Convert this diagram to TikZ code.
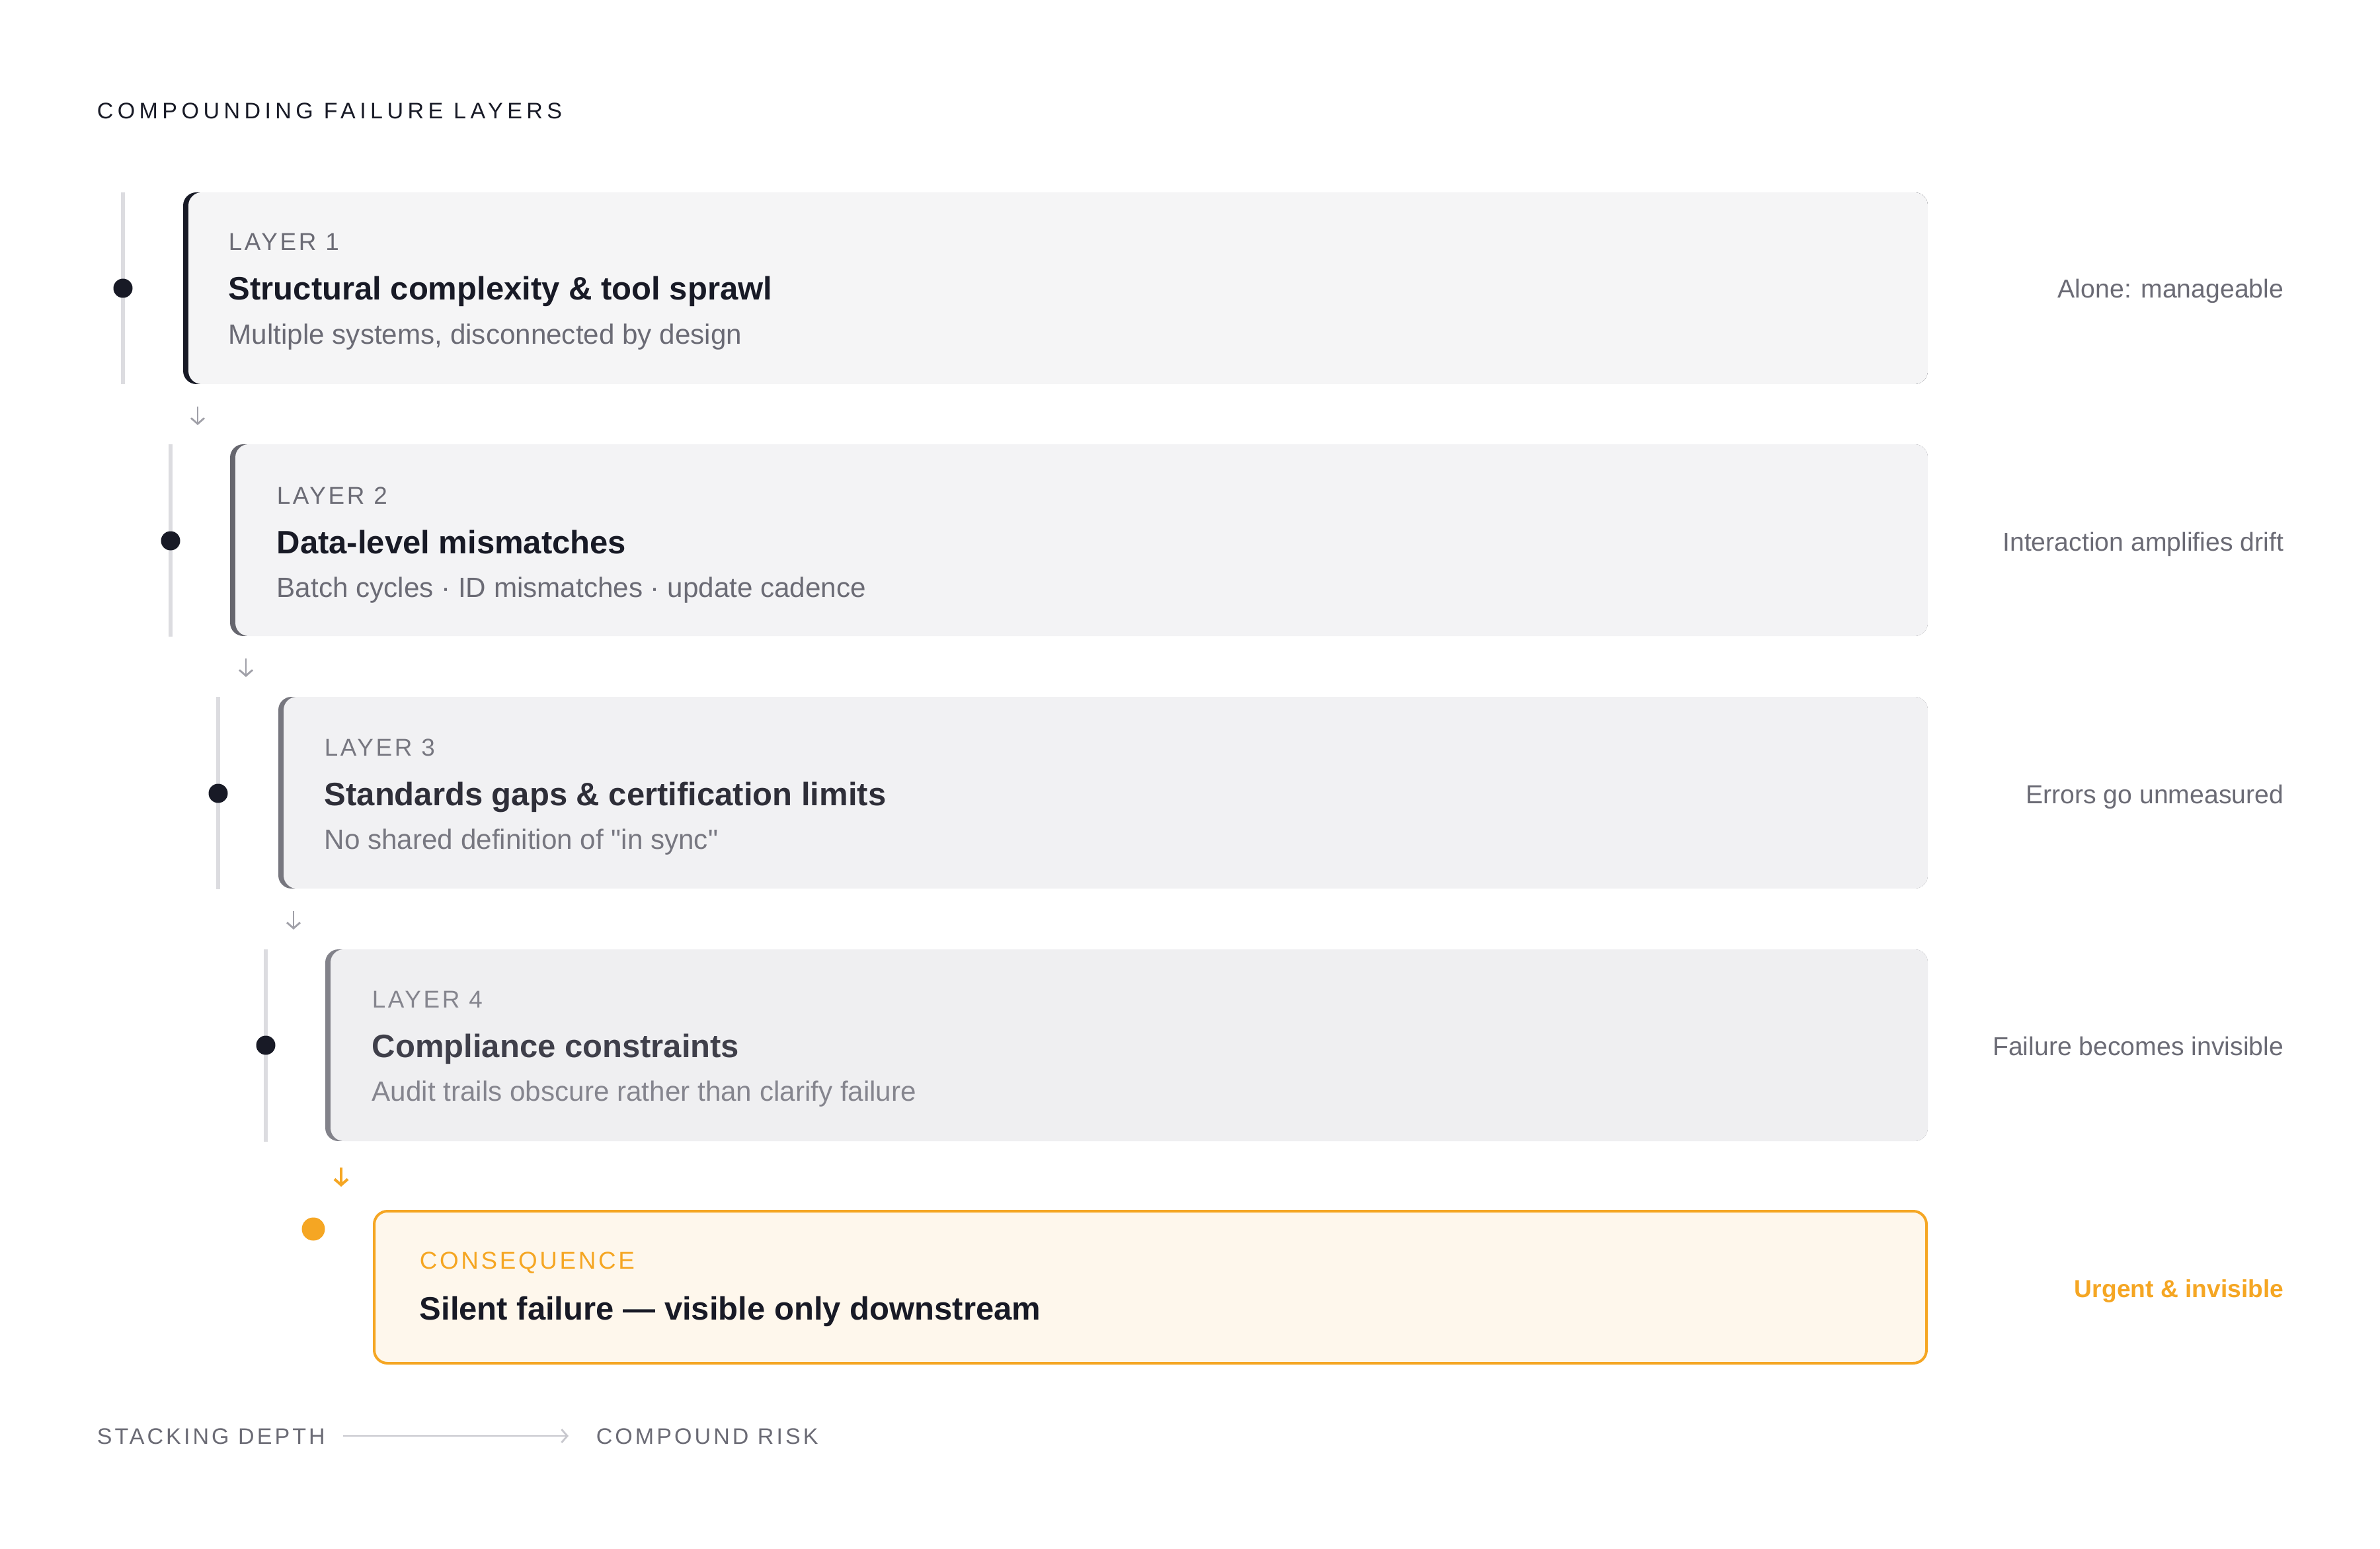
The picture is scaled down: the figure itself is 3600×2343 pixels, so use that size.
\documentclass[tikz,border=0pt]{standalone}
\usepackage{fontspec}
\setmainfont{Liberation Sans}
\usetikzlibrary{arrows.meta}
\definecolor{ink}{HTML}{181A26}
\definecolor{inkc}{HTML}{2E2E38}
\definecolor{inkd}{HTML}{3F3F4A}
\definecolor{mute}{HTML}{6B6B75}
\definecolor{mutec}{HTML}{777780}
\definecolor{muted}{HTML}{85858E}
\definecolor{tline}{HTML}{DCDCE0}
\definecolor{fa}{HTML}{F5F5F6}
\definecolor{fb}{HTML}{F3F3F5}
\definecolor{fc}{HTML}{F1F1F3}
\definecolor{fd}{HTML}{EFEFF1}
\definecolor{ba}{HTML}{181A26}
\definecolor{bb}{HTML}{66666E}
\definecolor{bc}{HTML}{77777F}
\definecolor{bd}{HTML}{82828A}
\definecolor{orng}{HTML}{F5A623}
\definecolor{cfill}{HTML}{FEF7EC}
\definecolor{agrey}{HTML}{A0A0A8}
\definecolor{bline}{HTML}{C8C8CE}
\newcommand\sq{\XeTeXglyph\XeTeXcharglyph"22\relax}
\newcommand\LBox[5]{%
  \begin{scope}
    \clip[rounded corners=5pt] (#1,#2) rectangle (2916,#2+290);
    \fill[#4] (#1,#2) rectangle (2916,#2+290);
    \fill[#3, rounded corners=5pt] (#1+8,#2) rectangle (2960,#2+290);
  \end{scope}
  \coordinate (#5) at (#1,#2);
}
\tikzset{
  capsA/.style={inner sep=0, anchor=base west, font=\fontsize{9.2}{11}\selectfont\addfontfeature{LetterSpace=10}},
  ttlA/.style={inner sep=0, anchor=base west, font=\fontsize{12.25}{14}\selectfont\bfseries},
  subA/.style={inner sep=0, anchor=base west, font=\fontsize{10.55}{12}\selectfont},
  sideA/.style={inner sep=0, anchor=base east, font=\fontsize{9.8}{12}\selectfont, text=mute},
  axisA/.style={inner sep=0, anchor=base west, text=mute, font=\fontsize{8.5}{10}\selectfont\addfontfeature{LetterSpace=12}},
  tl/.style={draw=tline, line width=1.5pt},
  dotA/.style={circle, fill=ink, inner sep=0, minimum size=7.25pt},
  garrow/.style={draw=agrey, line width=0.7pt, -{Straight Barb[length=2.2pt, width=5pt]}},
  oarrow/.style={draw=orng, line width=1pt, -{Straight Barb[length=2.2pt, width=5pt]}},
}
\begin{document}
\begin{tikzpicture}[x=0.25pt, y=-0.25pt]
\useasboundingbox (0,0) rectangle (3600,2343);
\fill[white] (0,0) rectangle (3600,2343);

\node[inner sep=0, anchor=base west, text=ink, font=\fontsize{8.5}{10}\selectfont\addfontfeature{LetterSpace=19}] (head) at (146,180) {COMPOUNDING FAILURE LAYERS};

% ---- Layer 1
\LBox{277}{291}{fa}{ba}{b1}
\draw[tl] (186,291) coordinate (t1a) -- (186,581) coordinate (t1b);
\node[dotA] (d1) at (186,436) {};
\node[capsA, text=mute] (l1) at (345,379) {LAYER 1};
\node[ttlA, text=ink] (h1) at (345,454) {Structural complexity \& tool sprawl};
\node[subA, text=mute] (s1) at (345,521) {Multiple systems, disconnected by design};
\node[sideA] (r1) at (3455,451) {Alone: manageable};
\coordinate (a1s) at (299,615); \coordinate (a1e) at (299,643);
\draw[garrow] (a1s) -- (a1e);

% ---- Layer 2
\LBox{348}{672}{fb}{bb}{b2}
\draw[tl] (258,672) coordinate (t2a) -- (258,963) coordinate (t2b);
\node[dotA] (d2) at (258,818) {};
\node[capsA, text=mute] (l2) at (418,762) {LAYER 2};
\node[ttlA, text=ink] (h2) at (418,837) {Data-level mismatches};
\node[subA, text=mute] (s2) at (418,903) {Batch cycles · ID mismatches · update cadence};
\node[sideA] (r2) at (3455,833) {Interaction amplifies drift};
\coordinate (a2s) at (372,996); \coordinate (a2e) at (372,1024);
\draw[garrow] (a2s) -- (a2e);

% ---- Layer 3
\LBox{421}{1054}{fc}{bc}{b3}
\draw[tl] (330,1054) coordinate (t3a) -- (330,1345) coordinate (t3b);
\node[dotA] (d3) at (330,1200) {};
\node[capsA, text=mutec] (l3) at (490,1143) {LAYER 3};
\node[ttlA, text=inkc] (h3) at (490,1218) {Standards gaps \& certification limits};
\node[subA, text=mutec] (s3) at (490,1284) {No shared definition of \sq in sync\sq};
\node[sideA] (r3) at (3455,1215) {Errors go unmeasured};
\coordinate (a3s) at (444,1378); \coordinate (a3e) at (444,1406);
\draw[garrow] (a3s) -- (a3e);

% ---- Layer 4
\LBox{492}{1436}{fd}{bd}{b4}
\draw[tl] (402,1436) coordinate (t4a) -- (402,1727) coordinate (t4b);
\node[dotA] (d4) at (402,1581) {};
\node[capsA, text=muted] (l4) at (562,1524) {LAYER 4};
\node[ttlA, text=inkd] (h4) at (562,1599) {Compliance constraints};
\node[subA, text=muted] (s4) at (562,1665) {Audit trails obscure rather than clarify failure};
\node[sideA] (r4) at (3455,1596) {Failure becomes invisible};
\coordinate (a4s) at (516,1766); \coordinate (a4e) at (516,1795);
\draw[oarrow] (a4s) -- (a4e);

% ---- Consequence
\draw[orng, line width=1pt, fill=cfill, rounded corners=5pt] (566,1832) rectangle (2914,2062);
\coordinate (b5) at (566,1832);
\node[circle, fill=orng, inner sep=0, minimum size=8.75pt] (d5) at (474,1859) {};
\node[capsA, text=orng] (l5) at (634,1919) {CONSEQUENCE};
\node[ttlA, text=ink] (h5) at (634,1996) {Silent failure — visible only downstream};
\node[sideA, font=\fontsize{9.3}{12}\selectfont\bfseries, text=orng] (r5) at (3455,1962) {Urgent \& invisible};

% ---- Bottom axis
\node[axisA] (x1) at (146,2184) {STACKING DEPTH};
\node[axisA] (x2) at (901,2184) {COMPOUND RISK};
\coordinate (xs) at (519,2172); \coordinate (xe) at (860,2172);
\draw[draw=bline, line width=0.7pt, -{Straight Barb[length=2.2pt, width=5pt]}] (xs) -- (xe);
\end{tikzpicture}
\end{document}
